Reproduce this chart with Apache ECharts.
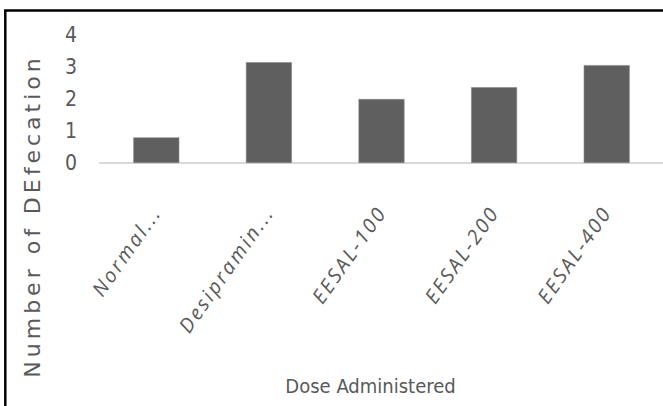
<!DOCTYPE html>
<html>
<head>
<meta charset="utf-8">
<script src="https://cdn.jsdelivr.net/npm/echarts@6/dist/echarts.min.js"></script>
<style>
  html, body { margin: 0; padding: 0; background: #fff; }
  #chart { width: 663px; height: 406px; }
  /* spaced-out lettering for the axis title and the slanted category labels */
  #chart svg text[style*="Verdana"] { letter-spacing: 4px; }
  #chart svg text[style*="Segoe"] { letter-spacing: 2.5px; }
</style>
</head>
<body>
<div id="chart"></div>
<script>
// Dose groups and mean number of defecations
const categories = ['Normal...', 'Desipramin...', 'EESAL-100', 'EESAL-200', 'EESAL-400'];
const defecations = [0.8, 3.15, 2.0, 2.37, 3.06];
const yTicks = { min: 0, max: 4, interval: 1 };
const xTitle = 'Dose Administered';
const yTitle = 'Number of DEfecation';

const textGray = '#595959';
const narrowFont = "'Liberation Sans Narrow', 'Arial Narrow', 'DejaVu Sans Condensed', sans-serif";

const chart = echarts.init(document.getElementById('chart'), null, { renderer: 'svg' });

chart.setOption({
  animation: false,
  backgroundColor: '#ffffff',
  grid: { left: 100, right: 0, top: 35, bottom: 243 },
  xAxis: {
    type: 'category',
    data: categories,
    axisLine: { show: true, lineStyle: { color: '#d9d9d9', width: 2 } },
    axisTick: { show: false },
    axisLabel: {
      interval: 0,
      rotate: 55,
      margin: 45,
      color: textGray,
      fontStyle: 'italic',
      fontFamily: "'Segoe UI', 'Open Sans', sans-serif",
      fontSize: 20
    },
    name: xTitle,
    nameLocation: 'middle',
    nameGap: 213,
    nameTextStyle: {
      color: textGray,
      fontFamily: narrowFont,
      fontSize: 20,
      padding: [0, 22, 0, 0]
    }
  },
  yAxis: {
    type: 'value',
    min: yTicks.min,
    max: yTicks.max,
    interval: yTicks.interval,
    axisLine: { show: false },
    axisTick: { show: false },
    splitLine: { show: false },
    axisLabel: {
      margin: 23,
      color: textGray,
      fontFamily: narrowFont,
      fontSize: 21
    }
  },
  series: [{
    type: 'bar',
    data: defecations,
    barWidth: 46,
    itemStyle: { color: '#5f5f5f', borderColor: '#8a8a8a', borderWidth: 0.6 }
  }],
  graphic: [
    {
      type: 'rect',
      silent: true,
      shape: { x: 5.3, y: 10.5, width: 720, height: 420 },
      style: { fill: 'none', stroke: '#000', lineWidth: 2.5 }
    },
    {
      type: 'text',
      silent: true,
      x: 32,
      y: 216,
      rotation: Math.PI / 2,
      style: {
        text: yTitle,
        fill: textGray,
        font: "22px Verdana, 'DejaVu Sans', sans-serif",
        align: 'center',
        verticalAlign: 'middle'
      }
    }
  ]
});
</script>
</body>
</html>
